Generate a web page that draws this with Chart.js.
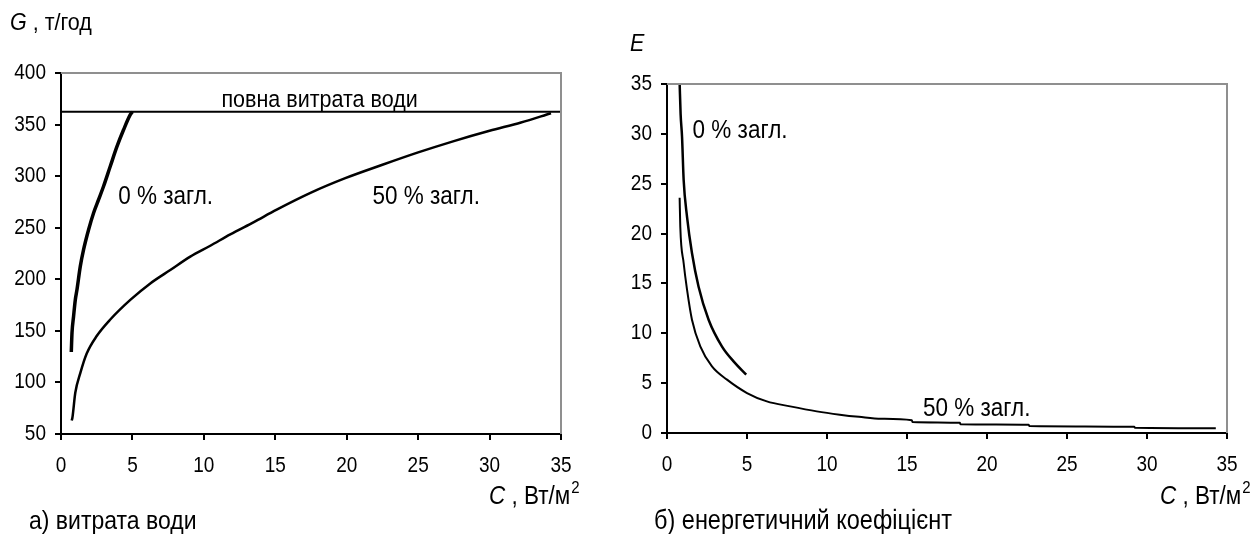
<!DOCTYPE html>
<html>
<head>
<meta charset="utf-8">
<script src="https://cdn.jsdelivr.net/npm/chart.js@4.4.0/dist/chart.umd.min.js"></script>
<style>
  html, body { margin: 0; padding: 0; background: #fff; }
  .wrap { position: relative; width: 1258px; height: 534px; }
  canvas { position: absolute; top: 0; }
  #flow { left: 0; }
  #ratio { left: 629px; }
</style>
</head>
<body>
<div class="wrap">
  <canvas id="flow" width="629" height="534"></canvas>
  <canvas id="ratio" width="629" height="534"></canvas>
</div>
<script>
// tick labels
const cTicks = [0, 5, 10, 15, 20, 25, 30, 35];
const gTicks = [50, 100, 150, 200, 250, 300, 350, 400];
const eTicks = [0, 5, 10, 15, 20, 25, 30, 35];

// water flow G (t/h) vs C (W/m2), 0 % shading
const flowC0 = [0.72, 0.77, 0.88, 1.0, 1.12, 1.35, 1.58, 1.93, 2.28, 2.63, 2.98, 3.45, 3.92, 4.38, 4.85, 5.0];
const flowG0 = [129.5, 148, 164, 180, 190, 212.5, 228.7, 248, 264.3, 277.2, 290.2, 309.6, 328.8, 345, 359.6, 362.5];

// water flow, 50 % shading
const flowC50 = [0.75, 0.8, 1.0, 1.35, 1.8, 2.5, 3.45, 4.85, 6.25, 7.65, 9.05, 10.45, 11.85, 13.5, 15.1, 17.5, 19.9, 22.5, 25.0, 27.5, 30.0, 32.2, 34.3];
const flowG50 = [63, 66, 90, 109, 128, 145, 161, 180, 196, 209, 222, 232.5, 243.5, 255.5, 267.5, 284, 298, 311, 323, 334, 344, 352, 361];

// full water flow
const fullC = [0, 35];
const fullG = [362.5, 362.5];

// energy ratio E vs C, 0 % shading
const ratioC0 = [0.79, 0.85, 0.94, 1.04, 1.25, 1.56, 1.97, 2.6, 3.43, 4.16, 4.95];
const ratioE0 = [35.1, 32.0, 29.7, 25.4, 21.7, 18.05, 14.7, 11.36, 8.69, 7.18, 5.85];

// energy ratio, 50 % shading
const ratioC50 = [0.79, 0.83, 1.04, 1.25, 1.56, 2.08, 2.81, 3.75, 5.0, 6.24, 7.7, 9.36, 10.8, 12.0, 13.4, 15.3, 15.35, 18.3, 18.35, 22.6, 22.65, 29.2, 29.25, 34.3];
const ratioE50 = [23.6, 20.7, 17.05, 14.4, 11.36, 8.69, 6.68, 5.35, 4.01, 3.17, 2.67, 2.17, 1.84, 1.62, 1.42, 1.27, 1.1, 1.02, 0.88, 0.82, 0.7, 0.62, 0.52, 0.47];

const FONT = '"Liberation Sans", Arial, sans-serif';
// glyphs in this figure are a bit taller than plain Arial
const STRETCH = 1.14;

const pts = (xs, ys) => xs.map((x, i) => ({ x, y: ys[i] }));

function curve(xs, ys, width) {
  return {
    data: pts(xs, ys),
    showLine: true,
    borderColor: '#000',
    borderWidth: width,
    pointRadius: 0,
    fill: false,
    cubicInterpolationMode: 'monotone'
  };
}

function text(ctx, str, x, y, size, opts = {}) {
  ctx.save();
  ctx.font = (opts.italic ? 'italic ' : '') + size + 'px ' + FONT;
  ctx.fillStyle = '#000';
  ctx.textAlign = opts.align || 'left';
  ctx.textBaseline = 'middle';
  ctx.translate(x, y);
  ctx.scale(1, opts.sy || STRETCH);
  ctx.fillText(str, 0, 0);
  const w = ctx.measureText(str).width;
  ctx.restore();
  return w;
}

// "C , Вт/м²"
function unitLabel(ctx, x, y) {
  let w = text(ctx, 'C', x, y, 22.5, { italic: true });
  w += text(ctx, ' , Вт/м', x + w, y, 22.5);
  text(ctx, '2', x + w + 1, y - 9, 15);
}

function notes(draw) {
  return {
    id: 'notes',
    afterDraw(chart) {
      const { ctx, chartArea: a, scales } = chart;
      ctx.save();
      ctx.strokeStyle = '#8f8f8f';
      ctx.lineWidth = 2;
      ctx.beginPath();
      ctx.moveTo(a.left, a.top);
      ctx.lineTo(a.right, a.top);
      ctx.lineTo(a.right, a.bottom);
      ctx.stroke();
      ctx.restore();
      // tick labels
      scales.x.ticks.forEach(t => {
        text(ctx, String(t.value), scales.x.getPixelForValue(t.value), a.bottom + 32, 19, { align: 'center' });
      });
      scales.y.ticks.forEach(t => {
        text(ctx, String(t.value), a.left - 15, scales.y.getPixelForValue(t.value), 19, { align: 'right' });
      });
      draw(ctx, scales.x, scales.y);
    }
  };
}

function axis(ticks, min, max, fitKey, fitSize) {
  return {
    type: 'linear',
    min, max,
    afterBuildTicks: s => { s.ticks = ticks.map(v => ({ value: v })); },
    afterFit: s => { s[fitKey] = fitSize; },
    ticks: { display: false },
    grid: { drawOnChartArea: false, drawTicks: true, tickLength: 6, color: '#000', lineWidth: 2 },
    border: { color: '#000', width: 2 }
  };
}

function makeChart(id, datasets, yTicks, yMin, yMax, pad, yWidth, xHeight, draw) {
  return new Chart(document.getElementById(id), {
    type: 'scatter',
    data: { datasets },
    options: {
      responsive: false,
      animation: false,
      events: [],
      layout: { padding: pad },
      plugins: { legend: { display: false }, tooltip: { enabled: false } },
      scales: {
        x: axis(cTicks, 0, 35, 'height', xHeight),
        y: axis(yTicks, yMin, yMax, 'width', yWidth)
      }
    },
    plugins: [notes(draw)]
  });
}

makeChart('flow', [
  curve(fullC, fullG, 2),
  curve(flowC0, flowG0, 3.5),
  curve(flowC50, flowG50, 2.5)
], gTicks, 50, 400, { top: 73, right: 68, left: 0, bottom: 0 }, 61, 100, (ctx, x, y) => {
  text(ctx, 'повна витрата води', x.getPixelForValue(18.1), y.getPixelForValue(374), 21.5, { align: 'center' });
  text(ctx, '0 % загл.', x.getPixelForValue(4.0), y.getPixelForValue(280), 22.5);
  text(ctx, '50 % загл.', x.getPixelForValue(21.8), y.getPixelForValue(280), 22.5);
  const w = text(ctx, 'G', 10, 23, 21.5, { italic: true });
  text(ctx, ' , т/год', 10 + w, 23, 21.5);
  unitLabel(ctx, 489, 497);
  text(ctx, 'а) витрата води', 29, 522, 23);
});

makeChart('ratio', [
  curve(ratioC0, ratioE0, 2.5),
  curve(ratioC50, ratioE50, 2)
], eTicks, 0, 35, { top: 84, right: 31, left: 0, bottom: 0 }, 38, 101, (ctx, x, y) => {
  text(ctx, '0 % загл.', x.getPixelForValue(1.6), y.getPixelForValue(30.3), 22.5);
  text(ctx, '50 % загл.', x.getPixelForValue(16.0), y.getPixelForValue(2.4), 22.5);
  text(ctx, 'E', 630 - 629, 44, 21.5, { italic: true });
  unitLabel(ctx, 1160 - 629, 497);
  text(ctx, 'б) енергетичний коефіцієнт', 654 - 629, 522, 23.5);
});
</script>
</body>
</html>
